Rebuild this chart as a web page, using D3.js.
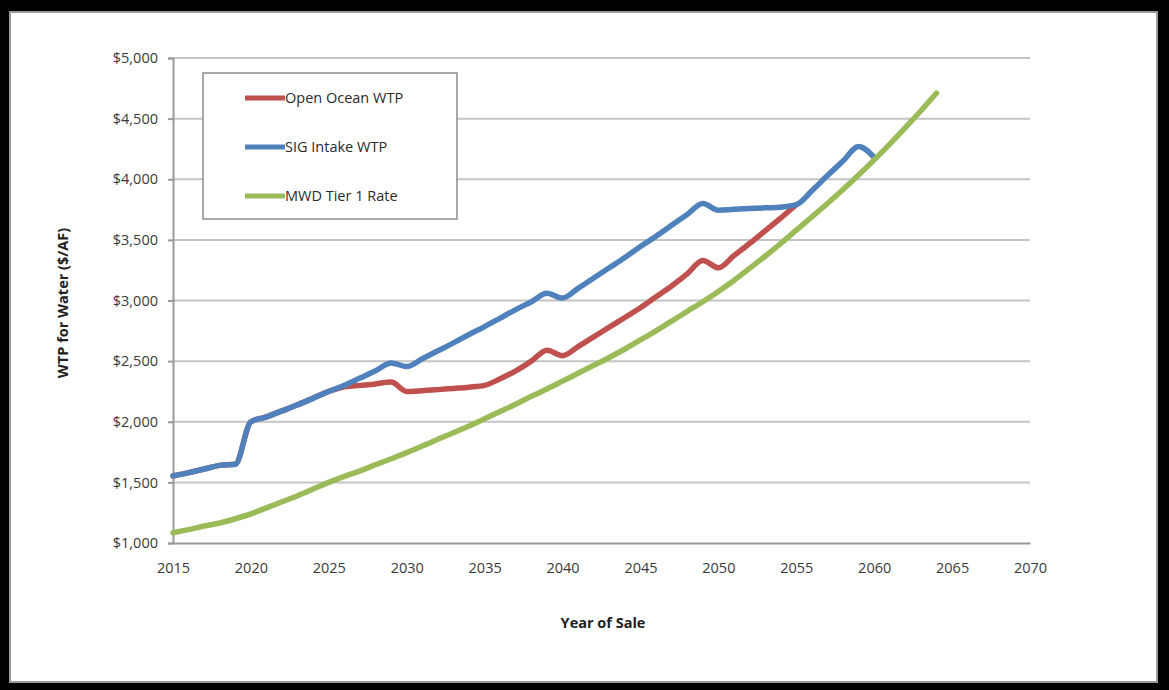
<!DOCTYPE html>
<html lang="en">
<head>
    <meta charset="UTF-8">
    <title>WTP for Water</title>
    <script src="https://cdnjs.cloudflare.com/ajax/libs/d3/7.8.4/d3.min.js"></script>
    <style>
        body { margin: 0; background: #000; }
        svg { display: block; }
        text { font-family: "Open Sans", "Liberation Sans", sans-serif; }
    </style>
</head>
<body>
    <svg width="1169" height="690"></svg>

    <script>
        // years of sale
        const years = d3.range(2015, 2065);

        // MWD Tier 1 Rate, 2015..2064
        const mwdRate = [
            1085, 1110, 1140, 1165, 1200, 1240, 1290, 1340, 1390, 1445,
            1500, 1550, 1595, 1645, 1695, 1745, 1800, 1855, 1910, 1965,
            2025, 2085, 2145, 2210, 2270, 2335, 2400, 2465, 2530, 2600,
            2675, 2750, 2830, 2910, 2990, 3075, 3165, 3265, 3365, 3470,
            3580, 3690, 3800, 3915, 4035, 4160, 4290, 4425, 4565, 4711
        ];

        // SIG Intake WTP, 2015..2060
        const sigWtp = [
            1553, 1580, 1610, 1640, 1650, 2000, 2040, 2090, 2140, 2195,
            2250, 2300, 2360, 2420, 2485, 2455, 2520, 2585, 2650, 2720,
            2785, 2855, 2925, 2990, 3060, 3020, 3100, 3185, 3270, 3355,
            3445, 3530, 3620, 3710, 3800, 3745, 3752, 3758, 3764, 3770,
            3790, 3905, 4030, 4150, 4270, 4180
        ];

        // Open Ocean WTP, 2015..2055
        const openOceanWtp = [
            1553, 1580, 1610, 1640, 1650, 2000, 2040, 2090, 2140, 2195,
            2250, 2288, 2300, 2312, 2328, 2250, 2256, 2265, 2275, 2285,
            2300, 2355, 2420, 2500, 2590, 2545, 2620, 2700, 2780, 2860,
            2940, 3030, 3120, 3220, 3330, 3270, 3370, 3470, 3575, 3680,
            3790
        ];

        const yTicks = [1000, 1500, 2000, 2500, 3000, 3500, 4000, 4500, 5000];
        const xTicks = [2015, 2020, 2025, 2030, 2035, 2040, 2045, 2050, 2055, 2060, 2065, 2070];

        const series = [
            { name: "Open Ocean WTP", color: "#c0504d", values: openOceanWtp },
            { name: "SIG Intake WTP", color: "#4f81bd", values: sigWtp },
            { name: "MWD Tier 1 Rate", color: "#9bbb59", values: mwdRate }
        ];

        const svg = d3.select("svg");

        // black frame and white sheet
        svg.append("rect").attr("width", 1169).attr("height", 690).attr("fill", "#000");
        svg.append("rect")
            .attr("x", 10).attr("y", 12).attr("width", 1147).attr("height", 670)
            .attr("fill", "#fff").attr("stroke", "#9a9a9a").attr("stroke-width", 2);

        const x = d3.scaleLinear().domain([2015, 2070]).range([173, 1030]);
        const y = d3.scaleLinear().domain([1000, 5000]).range([543, 58]);

        // gridlines
        svg.append("g").selectAll("line")
            .data(yTicks.slice(1))
            .enter().append("line")
            .attr("x1", x(2015)).attr("x2", x(2070))
            .attr("y1", d => y(d)).attr("y2", d => y(d))
            .style("stroke", "#c4c4c4")
            .style("stroke-width", 2);

        // y axis
        const yAxis = svg.append("g")
            .attr("transform", `translate(${x(2015)},0)`)
            .call(d3.axisLeft(y).tickValues(yTicks).tickSize(5).tickPadding(10)
                .tickFormat(d => "$" + d3.format(",")(d)));
        yAxis.select(".domain").style("stroke", "#9a9a9a").style("stroke-width", 2);
        yAxis.selectAll(".tick line").style("stroke", "#9a9a9a").style("stroke-width", 2);
        yAxis.selectAll("text").style("font-size", "14.5px").style("fill", "#3a3a3a")
            .style("font-family", "'Open Sans', sans-serif");

        // x axis
        const xAxis = svg.append("g")
            .attr("transform", `translate(0,${y(1000)})`)
            .call(d3.axisBottom(x).tickValues(xTicks).tickSize(0).tickPadding(20)
                .tickFormat(d3.format("d")));
        xAxis.select(".domain").style("stroke", "#9a9a9a").style("stroke-width", 2);
        xAxis.selectAll("text").style("font-size", "14.5px").style("fill", "#3a3a3a")
            .style("font-family", "'Open Sans', sans-serif");

        // lines
        const line = d3.line()
            .x((d, i) => x(years[i]))
            .y(d => y(d))
            .curve(d3.curveMonotoneX);

        svg.append("g").selectAll("path")
            .data(series)
            .enter().append("path")
            .attr("d", d => line(d.values))
            .style("fill", "none")
            .style("stroke", d => d.color)
            .style("stroke-width", 5.5)
            .style("stroke-linejoin", "round")
            .style("stroke-linecap", "round");

        // legend
        const legend = svg.append("g");
        legend.append("rect")
            .attr("x", 203).attr("y", 73).attr("width", 254).attr("height", 146)
            .attr("fill", "#fff").attr("stroke", "#8c8c8c").attr("stroke-width", 1.5);

        const legendY = [98, 147, 196];
        const item = legend.selectAll("g.item")
            .data(series)
            .enter().append("g")
            .attr("class", "item")
            .attr("transform", (d, i) => `translate(0,${legendY[i]})`);
        item.append("line")
            .attr("x1", 245).attr("x2", 285)
            .style("stroke", d => d.color)
            .style("stroke-width", 5);
        item.append("text")
            .attr("x", 285).attr("dy", "0.35em")
            .style("font-size", "14.5px").style("fill", "#2a2a2a")
            .text(d => d.name);

        // axis titles
        svg.append("text")
            .attr("x", 603).attr("y", 628)
            .attr("text-anchor", "middle")
            .style("font-size", "14.5px").style("font-weight", "bold").style("fill", "#222")
            .text("Year of Sale");

        svg.append("text")
            .attr("transform", "translate(68,303) rotate(-90)")
            .attr("text-anchor", "middle")
            .style("font-size", "14.5px").style("font-weight", "bold").style("fill", "#222")
            .text("WTP for Water ($/AF)");
    </script>
</body>
</html>
